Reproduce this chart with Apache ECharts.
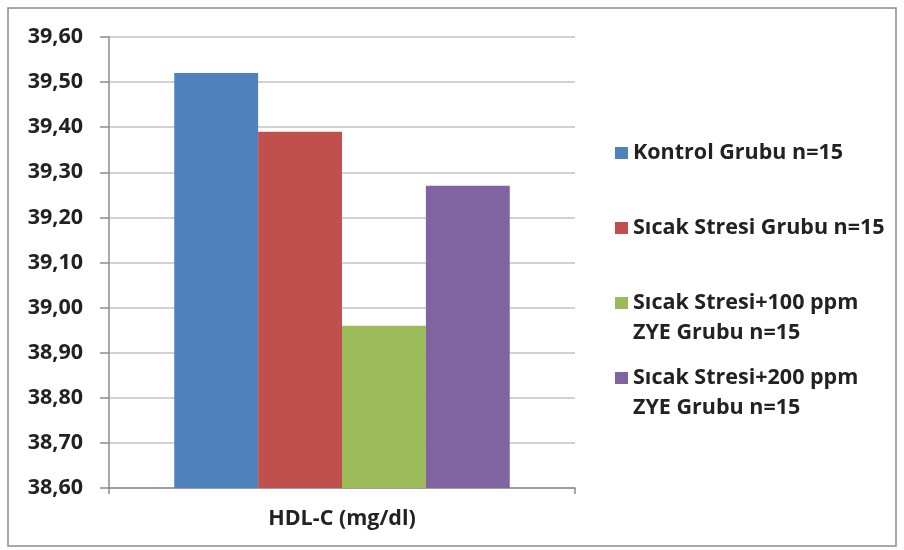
<!DOCTYPE html>
<html><head><meta charset="utf-8">
<script src="https://cdn.jsdelivr.net/npm/echarts@6/dist/echarts.min.js"></script>
<style>html,body{margin:0;padding:0;background:#fff}#c{width:904px;height:550px}</style>
</head><body><div id="c"></div>
<script>
const categories = ['HDL-C (mg/dl)'];
const seriesNames = ['Kontrol Grubu n=15', 'Sıcak Stresi Grubu n=15', 'Sıcak Stresi+100 ppm\nZYE Grubu n=15', 'Sıcak Stresi+200 ppm\nZYE Grubu n=15'];
const kontrol = [39.52];
const sicakStresi = [39.39];
const ppm100 = [38.96];
const ppm200 = [39.27];
const colors = ['#4f81bd', '#c0504d', '#9bbb59', '#8064a2'];
const yMin = 38.6, yMax = 39.6, yStep = 0.1;

const values = [kontrol, sicakStresi, ppm100, ppm200];
const font = '"Open Sans", "Noto Sans", sans-serif';
const fs = 21.5;
const chart = echarts.init(document.getElementById('c'));
chart.setOption({
  animation: false,
  textStyle: { fontFamily: font },
  graphic: [{
    type: 'rect', shape: { x: 8, y: 8, width: 888, height: 538 },
    style: { fill: 'none', stroke: '#8c8c8c', lineWidth: 1.5 }, z: -1
  }],
  grid: { left: 109, right: 329, top: 37, bottom: 62 },
  legend: {
    orient: 'vertical', left: 615, top: 108, padding: 0,
    itemWidth: 13, itemHeight: 12, itemGap: -15,
    icon: 'rect',
    textStyle: { fontFamily: font, fontWeight: 'bold', fontSize: fs, color: '#222', lineHeight: 30 },
    formatter: n => n.indexOf('\n') >= 0 ? '\n' + n : '\n' + n + '\n',
    data: seriesNames
  },
  xAxis: {
    type: 'category', data: categories,
    axisLine: { lineStyle: { color: '#8c8c8c', width: 1.5 } },
    axisTick: { show: true, length: 6, lineStyle: { color: '#8c8c8c', width: 1.5 } },
    axisLabel: { margin: 20, fontFamily: font, fontWeight: 'bold', fontSize: fs, color: '#222' }
  },
  yAxis: {
    type: 'value', min: yMin, max: yMax, interval: yStep,
    axisLine: { show: true, lineStyle: { color: '#8c8c8c', width: 1.5 } },
    axisTick: { show: true, length: 9, inside: false, lineStyle: { color: '#8c8c8c', width: 1.5 } },
    splitLine: { lineStyle: { color: '#c3c3c3', width: 1.5 } },
    axisLabel: {
      margin: 26, fontFamily: font, fontWeight: 'bold', fontSize: fs, color: '#222',
      formatter: v => v.toFixed(2).replace('.', ',')
    }
  },
  series: seriesNames.map((n, i) => ({
    name: n, type: 'bar', data: values[i],
    barGap: '0%', barCategoryGap: '28%',
    itemStyle: { color: colors[i] }
  }))
});
</script></body></html>
